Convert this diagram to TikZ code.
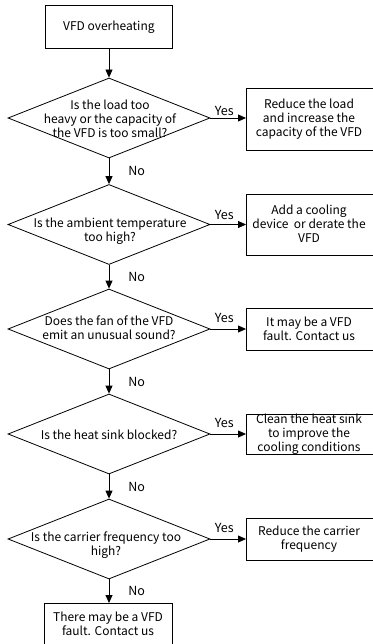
\documentclass[tikz,border=0pt]{standalone}
\usepackage{fontspec}
\setmainfont{Noto Sans CJK SC}
\usetikzlibrary{shapes.geometric,arrows.meta}
\begin{document}
\begin{tikzpicture}[x=1pt,y=-1pt,
  line width=0.8pt,
  txt/.style={align=center,font=\fontsize{12}{14}\selectfont,inner sep=0pt},
  boxnode/.style={draw,rectangle,inner sep=0pt,anchor=north west},
  dia/.style={draw,diamond,inner sep=0pt,minimum width=202pt,minimum height=80pt},
  arr/.style={-{Triangle[length=8pt,width=7pt]}},
  lab/.style={font=\fontsize{12.5}{13}\selectfont,inner sep=0pt}]
\useasboundingbox (0,0) rectangle (372,644);
% start box
\node[boxnode,minimum width=127pt,minimum height=43pt] (start) at (45,5) {};
\node[txt] (tstart) at (start.center) {VFD overheating};
% diamonds
\node[dia] (d1) at (109,118) {};
\node[dia] (d2) at (109,224.5) {};
\node[dia] (d3) at (109,329) {};
\node[dia] (d4) at (109,434) {};
\node[dia] (d5) at (109,539) {};
\node[txt] (td1) at (110,119) {Is the load too\\heavy or the capacity of\\the VFD is too small?};
\node[txt] (td2) at (110,231) {Is the ambient temperature\\too high?};
\node[txt] (td3) at (109,328) {Does the fan of the VFD\\emit an unusual sound?};
\node[txt] (td4) at (109,435) {Is the heat sink blocked?};
\node[txt] (td5) at (106,545) {Is the carrier frequency too\\high?};
% right boxes
\node[boxnode,minimum width=127pt,minimum height=62pt] (b1) at (246,88) {};
\node[boxnode,minimum width=127pt,minimum height=61pt] (b2) at (246,194) {};
\node[boxnode,minimum width=127pt,minimum height=42pt] (b3) at (246,308) {};
\node[boxnode,minimum width=127pt,minimum height=40pt] (b4) at (246,414) {};
\node[boxnode,minimum width=127pt,minimum height=42pt] (b5) at (246,518) {};
\node[txt] (tb1) at (309,119) {Reduce the load\\and increase the\\capacity of the VFD};
\node[txt] (tb2) at (309,224) {Add a cooling\\device\ \ or derate the\\VFD};
\node[txt] (tb3) at (309,329) {It may be a VFD\\fault. Contact us};
\node[txt] (tb4) at (309,434) {Clean the heat sink\\to improve the\\cooling conditions};
\node[txt] (tb5) at (309,539) {Reduce the carrier\\frequency};
% end box
\node[boxnode,minimum width=128pt,minimum height=50pt] (end) at (44,603) {};
\node[txt] (tend) at (108,624) {There may be a VFD\\fault. Contact us};
% vertical arrows
\draw[arr] (start.south -| d1.north) -- (d1.north);
\draw[arr] (d1.south) -- node[lab,right=19pt] (n1) {No} (d2.north);
\draw[arr] (d2.south) -- node[lab,right=19pt] (n2) {No} (d3.north);
\draw[arr] (d3.south) -- node[lab,right=19pt] (n3) {No} (d4.north);
\draw[arr] (d4.south) -- node[lab,right=19pt] (n4) {No} (d5.north);
\draw[arr] (d5.south) -- node[lab,right=19pt] (n5) {No} (end.north -| d5.south);
% yes arrows
\draw[arr] (d1.east) -- node[lab,above=2pt,xshift=-4pt] (y1) {Yes} (d1.east -| b1.west);
\draw[arr] (d2.east) -- node[lab,above=4pt,xshift=-4pt] (y2) {Yes} (d2.east -| b2.west);
\draw[arr] (d3.east) -- node[lab,above=6pt,xshift=-4pt] (y3) {Yes} (d3.east -| b3.west);
\draw[arr] (d4.east) -- node[lab,above=6pt,xshift=-4pt] (y4) {Yes} (d4.east -| b4.west);
\draw[arr] (d5.east) -- node[lab,above=6pt,xshift=-4pt] (y5) {Yes} (d5.east -| b5.west);
\end{tikzpicture}
\end{document}
